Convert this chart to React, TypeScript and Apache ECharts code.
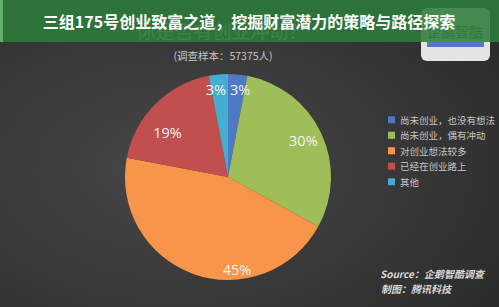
import React, { useEffect, useRef } from "react";
import * as echarts from "echarts";

const categories = ["尚未创业，也没有想法", "尚未创业，偶有冲动", "对创业想法较多", "已经在创业路上", "其他"];
const values = [3, 30, 45, 19, 3];
const colors = ["#4f79c4", "#9fbd58", "#f7954a", "#c04f4e", "#45aed0"];
const bannerTitle = "三组175号创业致富之道，挖掘财富潜力的策略与路径探索";
const origTitle = "你是否有创业冲动？";
const subtitle = "(调查样本：57375人)";
const sourceLines = ["Source：企鹅智酷调查", "制图：腾讯科技"];

export default function App() {
  const ref = useRef<HTMLDivElement>(null);
  useEffect(() => {
    if (!ref.current) return;
    const chart = echarts.init(ref.current, null, { renderer: "svg" });
    const data = categories.map((name, i) => ({ name, value: values[i], itemStyle: { color: colors[i] } }));
    const font = "'Noto Sans CJK SC', 'Noto Sans', sans-serif";
    // label nudges to follow the reference's hand-placed labels
    const labelNudge: Record<number, number[]> = { 0: [4, -2], 1: [-2, 0], 2: [38, 12], 3: [0, 16], 4: [-4, -2] };
    chart.setOption({
      animation: false,
      graphic: [
        {
          type: "rect",
          z: -10,
          shape: { x: 0, y: 0, width: 499, height: 307 },
          style: {
            fill: {
              type: "radial",
              x: 0.35,
              y: 0.55,
              r: 0.8,
              colorStops: [
                { offset: 0, color: "#474747" },
                { offset: 1, color: "#2b2b2b" },
              ],
            },
          },
        },
        {
          type: "text",
          z: 5,
          x: 222,
          y: 30,
          style: { text: origTitle, fill: "#b8b8b8", font: `19px ${font}`, textAlign: "center", textVerticalAlign: "middle" },
        },
        {
          type: "rect",
          z: 5,
          shape: { x: 421, y: 8, width: 69, height: 53, r: 6 },
          style: { fill: "#e4e4e4" },
        },
        {
          type: "text",
          z: 6,
          x: 455,
          y: 31,
          style: { text: "企鹅智酷", fill: "#56655c", font: `14px ${font}`, textAlign: "center", textVerticalAlign: "middle" },
        },
        {
          type: "rect",
          z: 6,
          shape: { x: 427, y: 42, width: 57, height: 5 },
          style: { fill: "#5a78bd" },
        },
        {
          type: "rect",
          z: 10,
          shape: { x: 0, y: 0, width: 499, height: 42 },
          style: { fill: "rgba(45,124,58,0.88)" },
        },
        {
          type: "rect",
          z: 11,
          shape: { x: 0, y: 0, width: 3, height: 42 },
          style: { fill: "rgba(110,190,120,0.8)" },
        },
        {
          type: "text",
          z: 12,
          x: 249,
          y: 21,
          style: {
            text: bannerTitle,
            fill: "#ffffff",
            font: `bold 16px ${font}`,
            textAlign: "center",
            textVerticalAlign: "middle",
          },
        },
        {
          type: "text",
          z: 5,
          x: 223,
          y: 55,
          style: { text: subtitle, fill: "#c8c8c8", font: `10.5px ${font}`, textAlign: "center", textVerticalAlign: "middle" },
        },
        {
          type: "text",
          z: 5,
          x: 380,
          y: 273,
          style: { text: sourceLines[0], fill: "#d8d8d8", font: `italic bold 10px ${font}`, textVerticalAlign: "middle" },
        },
        {
          type: "text",
          z: 5,
          x: 381,
          y: 288,
          style: { text: sourceLines[1], fill: "#d8d8d8", font: `italic bold 10px ${font}`, textVerticalAlign: "middle" },
        },
      ],
      legend: {
        orient: "vertical",
        left: 383,
        top: 110,
        itemWidth: 7,
        itemHeight: 7,
        itemGap: 6,
        icon: "rect",
        data: categories,
        textStyle: { color: "#c6c6c6", fontSize: 9.5, fontFamily: font },
      },
      series: [
        {
          type: "pie",
          center: [228, 177],
          radius: 103,
          startAngle: 90,
          clockwise: true,
          label: { show: false },
          labelLine: { show: false },
          itemStyle: { borderWidth: 0 },
          emphasis: { disabled: true },
          data,
        },
        {
          type: "pie",
          center: [228, 177],
          radius: [62, 103],
          startAngle: 90,
          clockwise: true,
          silent: true,
          avoidLabelOverlap: false,
          labelLayout: { hideOverlap: false },
          itemStyle: { color: "transparent", borderWidth: 0 },
          emphasis: { disabled: true },
          label: {
            show: true,
            position: "inside",
            formatter: "{c}%",
            color: "#f4f4f4",
            fontSize: 14.5,
            fontFamily: "'Open Sans', sans-serif",
          },
          labelLine: { show: false },
          data: categories.map((name, i) => ({ name, value: values[i], label: { offset: labelNudge[i] } })),
        },
      ],
    });
    return () => chart.dispose();
  }, []);
  return <div ref={ref} style={{ position: "absolute", left: 0, top: 0, width: 499, height: 307 }} />;
}
